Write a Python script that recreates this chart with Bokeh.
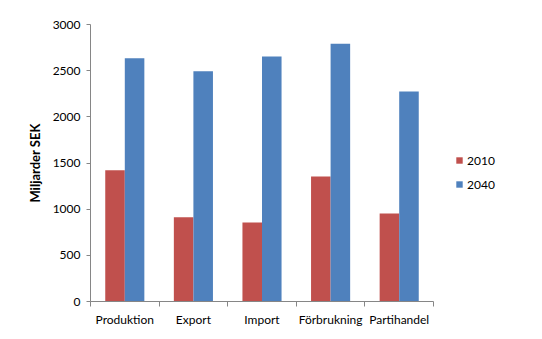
from bokeh.plotting import figure
from bokeh.models import FixedTicker, Legend, LegendItem, ColumnDataSource, Range1d
from bokeh.embed import file_html
from bokeh.resources import INLINE

categories = ["Produktion", "Export", "Import", "Förbrukning", "Partihandel"]
values_2010 = [1422, 913, 856, 1354, 953]
values_2040 = [2635, 2494, 2653, 2791, 2274]
series_names = ["2010", "2040"]
colors = ["#C0504D", "#4F81BD"]
y_ticks = [0, 500, 1000, 1500, 2000, 2500, 3000]

FONT = "Lato"
bar_w = 0.285
n = len(categories)
centers = [i + 0.5 for i in range(n)]

# frame spans x 90..542 px; categories occupy 90..433 px
frame_left, cat_right, frame_right = 90, 433, 542
x_end = n * (frame_right - frame_left) / (cat_right - frame_left)

p = figure(width=542, height=339, output_backend="svg", toolbar_location=None,
           x_range=Range1d(0, x_end), y_range=Range1d(0, 3000),
           min_border_left=90, min_border_right=0, min_border_top=24, min_border_bottom=38)
p.outline_line_color = None
p.xgrid.visible = False
p.ygrid.visible = False
p.background_fill_color = "white"
p.border_fill_color = "white"

src1 = ColumnDataSource(dict(x=[c - bar_w / 2 for c in centers], top=values_2010))
src2 = ColumnDataSource(dict(x=[c + bar_w / 2 for c in centers], top=values_2040))
r1 = p.vbar(x="x", top="top", width=bar_w, source=src1, fill_color=colors[0], line_color=None)
r2 = p.vbar(x="x", top="top", width=bar_w, source=src2, fill_color=colors[1], line_color=None)

# x axis
p.xaxis.bounds = (0, n)
p.xaxis.ticker = FixedTicker(ticks=centers, minor_ticks=[float(i) for i in range(n + 1)])
p.xaxis.major_label_overrides = {c: name for c, name in zip(centers, categories)}
p.xaxis.major_tick_out = 0
p.xaxis.major_tick_in = 0
p.xaxis.minor_tick_out = 5
p.xaxis.minor_tick_in = 0
p.xaxis.minor_tick_line_color = "#868686"
p.xaxis.axis_line_color = "#868686"
p.xaxis.major_label_text_font = FONT
p.xaxis.major_label_text_font_size = "12px"
p.xaxis.major_label_text_color = "#000000"
p.xaxis.major_label_standoff = 5

# y axis
p.yaxis.ticker = FixedTicker(ticks=y_ticks, minor_ticks=[])
p.yaxis.major_tick_out = 4
p.yaxis.major_tick_in = 0
p.yaxis.major_tick_line_color = "#868686"
p.yaxis.axis_line_color = "#868686"
p.yaxis.major_label_text_font = FONT
p.yaxis.major_label_text_font_size = "12px"
p.yaxis.major_label_text_color = "#000000"
p.yaxis.major_label_standoff = 6
p.yaxis.axis_label = "Miljarder SEK"
p.yaxis.axis_label_text_font = FONT
p.yaxis.axis_label_text_font_size = "13px"
p.yaxis.axis_label_text_font_style = "bold"
p.yaxis.axis_label_text_color = "#000000"
p.yaxis.axis_label_standoff = 7

legend = Legend(items=[LegendItem(label=series_names[0], renderers=[r1]),
                       LegendItem(label=series_names[1], renderers=[r2])],
                location=(365, 105))
legend.glyph_width = 8
legend.glyph_height = 8
legend.label_height = 24
legend.spacing = 0
legend.padding = 0
legend.margin = 0
legend.label_standoff = 4
legend.border_line_color = None
legend.background_fill_alpha = 0
legend.label_text_font = FONT
legend.label_text_font_size = "12px"
legend.label_text_color = "#000000"
p.add_layout(legend, "center")

open("out.html", "w").write(file_html(p, INLINE))
